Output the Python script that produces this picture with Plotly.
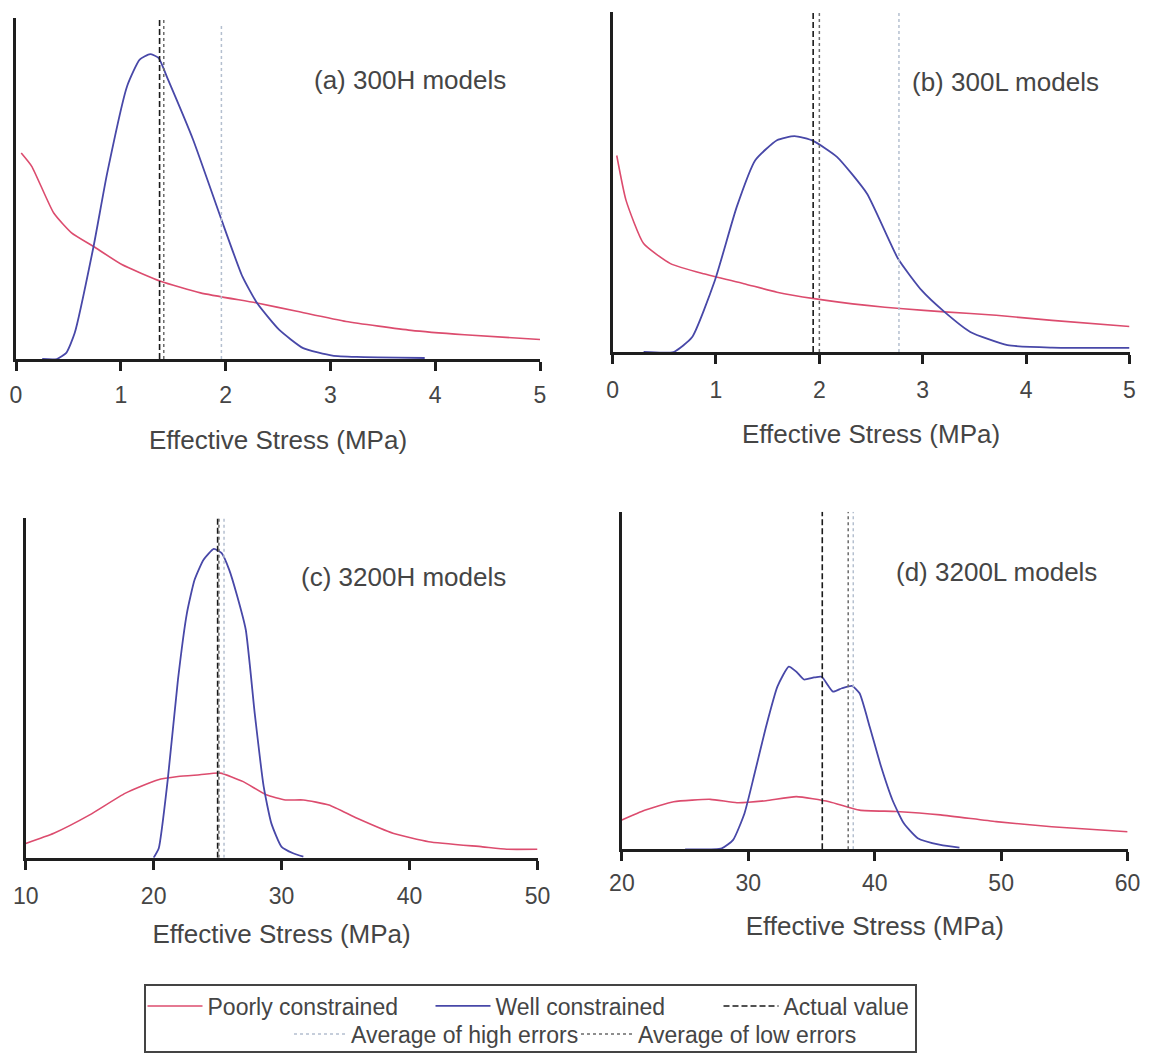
import plotly.graph_objects as go

# ---------------- data ----------------
# Panel (a) 300H
a_blue_x = [0.25, 0.39, 0.48, 0.56, 0.74, 0.87, 1.06, 1.18, 1.28, 1.36, 1.45, 1.69, 1.96, 2.16, 2.30, 2.51, 2.74, 3.02, 3.25, 3.9]
a_blue_y = [0, 0, 1.8, 7.6, 33, 54.5, 80, 87.8, 89.4, 88.3, 82, 64.3, 40.9, 24.2, 16.4, 8.6, 3.2, 1.0, 0.6, 0.3]
a_red_x = [0.05, 0.15, 0.36, 0.53, 0.74, 1.01, 1.38, 1.76, 2.30, 2.68, 3.15, 3.77, 4.28, 5.0]
a_red_y = [60.4, 56.5, 42.8, 37, 33, 27.7, 22.8, 19.4, 16.4, 14, 11, 8.4, 7.1, 5.7]

# Panel (b) 300L
b_blue_x = [0.3, 0.59, 0.77, 0.99, 1.20, 1.38, 1.59, 1.76, 1.94, 2.17, 2.46, 2.76, 2.99, 3.21, 3.46, 3.82, 4.25, 5.0]
b_blue_y = [0, 0, 4.4, 21.1, 42.6, 56.4, 62.3, 63.5, 62.1, 57.4, 46.6, 27.5, 18.1, 11.8, 5.9, 2.0, 1.3, 1.2]
b_red_x = [0.04, 0.13, 0.30, 0.56, 0.88, 1.27, 1.59, 1.95, 2.46, 2.81, 3.21, 3.71, 4.25, 5.0]
b_red_y = [57.8, 44.6, 31.9, 26, 23, 20.1, 17.6, 15.7, 13.7, 12.7, 11.8, 10.8, 9.3, 7.5]

# Panel (c) 3200H
c_blue_x = [20.0, 20.4, 21.1, 21.9, 22.6, 23.2, 23.9, 24.7, 25.3, 25.9, 26.5, 27.2, 27.9, 28.6, 29.2, 30.0, 30.9, 31.7]
c_blue_y = [0, 2.8, 22.9, 52.4, 72, 81.8, 87.7, 90.9, 89.7, 84.8, 77.4, 67.1, 42.5, 20.9, 10.1, 3.2, 1.3, 0.3]
c_red_x = [10.0, 12.2, 15.0, 17.8, 20.3, 21.9, 23.6, 25.2, 27.0, 28.8, 30.3, 31.7, 33.7, 35.9, 38.7, 41.5, 45.7, 47.6, 50]
c_red_y = [4.2, 7.2, 12.6, 19, 22.9, 23.9, 24.4, 24.9, 22.4, 18.5, 17, 17, 15.5, 11.6, 7.2, 4.7, 3.2, 2.5, 2.5]

# Panel (d) 3200L
d_blue_x = [25.0, 27.9, 28.8, 29.7, 30.5, 31.4, 32.3, 33.2, 33.8, 34.4, 35.2, 35.8, 36.7, 37.4, 38.2, 38.8, 39.6, 40.5, 41.4, 42.3, 43.4, 45.2, 46.7]
d_blue_y = [0, 0.3, 2.8, 10.7, 22.5, 36.3, 48.2, 54.1, 52.6, 50.3, 50.9, 51.1, 46.7, 47.7, 48.4, 46.2, 36.3, 24.5, 14.6, 7.7, 3.3, 1.3, 0.5]
d_red_x = [20, 21.8, 24.1, 27.0, 29.1, 31.4, 33.8, 36.4, 38.8, 41.7, 45.2, 49.6, 54.0, 60]
d_red_y = [8.7, 11.6, 14.1, 14.8, 13.8, 14.4, 15.6, 14.1, 11.6, 11.2, 10.2, 8.2, 6.7, 5.2]

# Vertical reference values per panel (a, b, c, d)
actual_value = [1.37, 1.94, 25.0, 35.85]
avg_low_errors = [1.41, 2.0, 25.1, 37.9]
avg_high_errors = [1.96, 2.77, 25.5, 38.3]
line_top = [100, 100, 100, 100]

panel_labels = ["(a) 300H models", "(b) 300L models", "(c) 3200H models", "(d) 3200L models"]
x_ranges = [[0, 5], [0, 5], [10, 50], [20, 60]]
x_dticks = [1, 1, 10, 10]
x_title = "Effective Stress (MPa)"

series_names = ["Poorly constrained", "Well constrained", "Actual value",
                "Average of high errors", "Average of low errors"]

# ---------------- styling ----------------
FONT = "Liberation Sans, Arial, sans-serif"
TXT = "#454545"
RED = "#dc4c6e"
BLUE = "#4848a8"
W, H = 1151, 1060

# panel boxes in pixels: (x_left, x_right, y_top, y_bottom)
boxes = [(16, 540, 18, 359), (612.6, 1129.5, 12, 352),
         (25.7, 537.5, 518, 857.7), (621.9, 1127.6, 511.7, 849.3)]
label_pos = [(410, 80), (1005, 82), (403, 577), (996, 572)]
tick_standoff = [5, 7, 7, 2]
title_standoff = [24, 23, 17, 23]

blues = [(a_blue_x, a_blue_y), (b_blue_x, b_blue_y), (c_blue_x, c_blue_y), (d_blue_x, d_blue_y)]
reds = [(a_red_x, a_red_y), (b_red_x, b_red_y), (c_red_x, c_red_y), (d_red_x, d_red_y)]

fig = go.Figure()
layout = dict()

for i in range(4):
    sfx = "" if i == 0 else str(i + 1)
    xa, ya = "x" + sfx, "y" + sfx
    first = (i == 0)
    rx, ry = reds[i]
    bx, by = blues[i]
    fig.add_trace(go.Scatter(x=rx, y=ry, mode="lines", name=series_names[0],
                             line=dict(color=RED, width=1.6, shape="spline", smoothing=0.5),
                             xaxis=xa, yaxis=ya, showlegend=first, legend="legend"))
    fig.add_trace(go.Scatter(x=bx, y=by, mode="lines", name=series_names[1],
                             line=dict(color=BLUE, width=1.8, shape="spline", smoothing=0.5),
                             xaxis=xa, yaxis=ya, showlegend=first, legend="legend"))
    fig.add_trace(go.Scatter(x=[actual_value[i]] * 2, y=[0, line_top[i]], mode="lines",
                             name=series_names[2],
                             line=dict(color="#1a1a1a", width=1.6, dash="6px,3px"),
                             xaxis=xa, yaxis=ya, showlegend=first, legend="legend"))
    fig.add_trace(go.Scatter(x=[avg_high_errors[i]] * 2, y=[0, line_top[i] - (2 if i == 0 else 0)],
                             mode="lines", name=series_names[3],
                             line=dict(color="#b4bfcf", width=1.5, dash="dot"),
                             xaxis=xa, yaxis=ya, showlegend=first, legend="legend2"))
    fig.add_trace(go.Scatter(x=[avg_low_errors[i]] * 2, y=[0, line_top[i]], mode="lines",
                             name=series_names[4],
                             line=dict(color="#6a6a6a", width=1.5, dash="dot"),
                             xaxis=xa, yaxis=ya, showlegend=first, legend="legend2"))

    xl, xr, yt, yb = boxes[i]
    layout["xaxis" + sfx] = dict(
        domain=[xl / W, xr / W], anchor=ya, range=x_ranges[i], dtick=x_dticks[i],
        tick0=x_ranges[i][0], showline=True, linecolor="#1e1e1e", linewidth=2.6,
        ticks="outside", ticklen=9, tickwidth=2.5, tickcolor="#1e1e1e",
        showgrid=False, zeroline=False, ticklabelstandoff=tick_standoff[i],
        tickfont=dict(family=FONT, size=23, color=TXT),
        title=dict(text=x_title, font=dict(family=FONT, size=26, color=TXT),
                   standoff=title_standoff[i]),
        automargin=False, fixedrange=True)
    layout["yaxis" + sfx] = dict(
        domain=[1 - yb / H, 1 - yt / H], anchor=xa, range=[0, 100],
        showline=True, linecolor="#1e1e1e", linewidth=2.6, showticklabels=False,
        ticks="", showgrid=False, zeroline=False, automargin=False, fixedrange=True)

annotations = []
for i in range(4):
    px, py = label_pos[i]
    annotations.append(dict(text=panel_labels[i], x=px / W, y=1 - py / H, xref="paper", yref="paper",
                            xanchor="center", yanchor="middle", showarrow=False,
                            font=dict(family=FONT, size=26, color=TXT)))

fig.update_layout(
    **layout,
    width=W, height=H,
    margin=dict(l=0, r=0, t=0, b=0, autoexpand=False),
    paper_bgcolor="white", plot_bgcolor="white",
    font=dict(family=FONT, color=TXT),
    annotations=annotations,
    legend=dict(orientation="h", x=574.5 / W, xanchor="center", y=1 - 1006 / H, yanchor="middle",
                font=dict(family=FONT, size=23, color=TXT), itemwidth=55,
                entrywidth=218, entrywidthmode="pixels",
                bgcolor="rgba(0,0,0,0)"),
    legend2=dict(orientation="h", x=576 / W, xanchor="center", y=1 - 1034 / H, yanchor="middle",
                 font=dict(family=FONT, size=23, color=TXT), itemwidth=52,
                 entrywidth=220, entrywidthmode="pixels",
                 bgcolor="rgba(0,0,0,0)"),
    shapes=[dict(type="rect", xref="paper", yref="paper", x0=145 / W, x1=916 / W,
                 y0=1 - 1052 / H, y1=1 - 985 / H, line=dict(color="#444", width=2),
                 fillcolor="rgba(0,0,0,0)")],
    showlegend=True,
)

fig.write_html("out.html")
